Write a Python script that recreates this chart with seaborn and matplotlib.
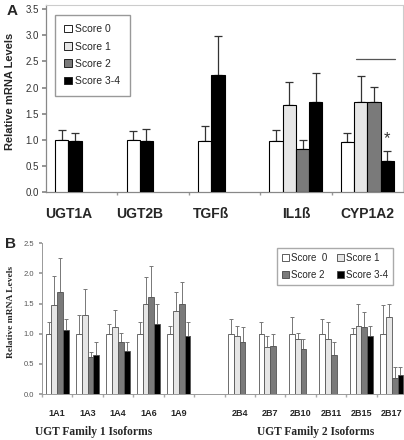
import numpy as np
import pandas as pd
import matplotlib
matplotlib.use('Agg')
import matplotlib.pyplot as plt
from matplotlib.patches import Patch
import seaborn as sns

nan = np.nan

# Panel A: genes vs. score groups (upper error only)
genes_a = ['UGT1A', 'UGT2B', 'TGFß', 'IL1ß', 'CYP1A2']
scores = ['Score 0', 'Score 1', 'Score 2', 'Score 3-4']
a_score0 = [1.00, 0.99, 0.98, 0.97, 0.96]
a_score1 = [nan, nan, nan, 1.67, 1.73]
a_score2 = [nan, nan, nan, 0.82, 1.73]
a_score34 = [0.98, 0.98, 2.24, 1.72, 0.59]
a_err0 = [0.19, 0.18, 0.28, 0.21, 0.17]
a_err1 = [nan, nan, nan, 0.44, 0.49]
a_err2 = [nan, nan, nan, 0.17, 0.28]
a_err34 = [0.15, 0.23, 0.75, 0.56, 0.19]

# Panel B: UGT isoforms
isoforms_b = ['1A1', '1A3', '1A4', '1A6', '1A9',
              '2B4', '2B7', '2B10', '2B11', '2B15', '2B17']
family_b = [1, 1, 1, 1, 1, 2, 2, 2, 2, 2, 2]
b_score0 = [1.00, 1.00, 1.00, 1.00, 1.00, 1.00, 1.00, 1.00, 1.00, 1.00, 1.00]
b_score1 = [1.48, 1.31, 1.11, 1.50, 1.38, 0.97, 0.78, 0.92, 0.92, 1.12, 1.27]
b_score2 = [1.69, 0.61, 0.87, 1.61, 1.49, 0.86, 0.80, 0.75, 0.65, 1.11, 0.26]
b_score34 = [1.06, 0.65, 0.71, 1.16, 0.96, nan, nan, nan, nan, 0.97, 0.31]
b_err0 = [0.19, 0.31, 0.16, 0.20, 0.13, 0.24, 0.19, 0.27, 0.24, 0.10, 0.48]
b_err1 = [0.48, 0.44, 0.28, 0.44, 0.32, 0.15, 0.18, 0.09, 0.27, 0.37, 0.22]
b_err2 = [0.57, 0.08, 0.14, 0.51, 0.36, 0.25, 0.20, 0.17, 0.22, 0.25, 0.19]
b_err34 = [0.18, 0.21, 0.16, 0.34, 0.23, nan, nan, nan, nan, 0.16, 0.14]

colors = ['#ffffff', '#e6e6e6', '#7a7a7a', '#000000']


def long_table(names, centers, means, errs, slot_w, pack):
    """Long table with one row per bar; pack=True closes gaps of missing bars."""
    rows = []
    for gi, name in enumerate(names):
        present = [k for k in range(4) if not np.isnan(means[k][gi])]
        for j, k in enumerate(present):
            slot = j if pack else k
            rows.append({'gene': name, 'score': scores[k],
                         'pos': centers[gi] + (slot - 1.5) * slot_w,
                         'value': means[k][gi], 'err': errs[k][gi]})
    return pd.DataFrame(rows)


sns.set_theme(style='white')
plt.rcParams['font.family'] = ['Liberation Sans', 'DejaVu Sans']

fig = plt.figure(figsize=(4.04, 4.40), dpi=100)
ax_a = fig.add_axes([46 / 404, 1 - 192 / 440, 357 / 404, 187 / 440])
ax_b = fig.add_axes([42 / 404, 46 / 440, 365 / 404, 150.7 / 440])

# ---------------- Panel A ----------------
centers_a = np.arange(len(genes_a))
df_a = long_table(genes_a, centers_a, [a_score0, a_score1, a_score2, a_score34],
                  [a_err0, a_err1, a_err2, a_err34], 0.186, pack=True)
sns.barplot(data=df_a, x='pos', y='value', hue='score', hue_order=scores,
            palette=colors, native_scale=True, dodge=False, width=1,
            errorbar=None, edgecolor='black', linewidth=0.8, legend=False,
            ax=ax_a, zorder=3)
ax_a.errorbar(df_a['pos'], df_a['value'], yerr=[np.zeros(len(df_a)), df_a['err']],
              fmt='none', ecolor='#333333', elinewidth=0.9, capsize=2.6,
              capthick=0.9, zorder=2)

ax_a.set_xlim(-0.5, len(genes_a) - 0.5)
ax_a.set_ylim(0, 3.58)
ax_a.set_yticks(np.arange(0, 3.51, 0.5))
ax_a.set_yticklabels([f'{v:.1f}' for v in np.arange(0, 3.51, 0.5)],
                     fontsize=7, color='#333333')
label_pos_a = df_a.groupby('gene', sort=False)['pos'].mean()
ax_a.set_xticks(label_pos_a.values)
ax_a.set_xticklabels(label_pos_a.index, fontsize=10, fontweight='bold')
ax_a.set_xticks(centers_a[:-1] + 0.5, minor=True)
ax_a.tick_params(axis='x', which='major', length=0, pad=11)
ax_a.tick_params(axis='x', which='minor', length=2.5, color='#999999', bottom=True)
ax_a.tick_params(axis='y', length=3, color='#888888', left=True, pad=2)
ax_a.set_xlabel('')
ax_a.set_ylabel('Relative mRNA Levels', fontsize=8, fontweight='bold')
ax_a.yaxis.set_label_coords(-0.087, 0.537)
for side in ['left', 'bottom']:
    ax_a.spines[side].set_color('#888888')
    ax_a.spines[side].set_linewidth(0.9)
for side in ['top', 'right']:
    ax_a.spines[side].set_color('#cccccc')
    ax_a.spines[side].set_linewidth(0.8)

# significance bar over CYP1A2
cyp = df_a[df_a['gene'] == 'CYP1A2']
black = cyp[cyp['score'] == 'Score 3-4'].iloc[0]
ax_a.plot([3.84, 4.39], [2.54, 2.54], color='#555555', lw=0.9)
ax_a.text(black['pos'], black['value'] + black['err'] + 0.25, '*',
          ha='center', va='center', fontsize=12, color='#333333')

handles_a = [Patch(facecolor=c, edgecolor='#222222', linewidth=0.7) for c in colors]
ax_a.legend(handles_a, scores, loc='upper left', bbox_to_anchor=(0.025, 0.947),
            borderaxespad=0, fontsize=7.5, frameon=True, fancybox=False,
            edgecolor='#999999', framealpha=1, handlelength=0.75,
            handleheight=0.75, handletextpad=0.3, labelspacing=0.7,
            borderpad=0.9)

fig.text(12 / 404, 1 - 11 / 440, 'A', fontsize=11, fontweight='bold',
         ha='center', va='center')

# ---------------- Panel B ----------------
centers_b = np.array([i + (1 if f == 2 else 0) for i, f in enumerate(family_b)])
df_b = long_table(isoforms_b, centers_b, [b_score0, b_score1, b_score2, b_score34],
                  [b_err0, b_err1, b_err2, b_err34], 0.19, pack=False)
sns.barplot(data=df_b, x='pos', y='value', hue='score', hue_order=scores,
            palette=colors, native_scale=True, dodge=False, width=1,
            errorbar=None, edgecolor='#555555', linewidth=0.6, legend=False,
            ax=ax_b, zorder=3)
ax_b.errorbar(df_b['pos'], df_b['value'], yerr=[np.zeros(len(df_b)), df_b['err']],
              fmt='none', ecolor='#777777', elinewidth=0.7, capsize=1.6,
              capthick=0.7, zorder=2)

ax_b.set_xlim(-0.5, centers_b[-1] + 0.5)
ax_b.set_ylim(0, 2.5)
ax_b.set_yticks(np.arange(0, 2.51, 0.5))
ax_b.set_yticklabels([f'{v:.1f}' for v in np.arange(0, 2.51, 0.5)],
                     fontsize=5.5, color='#555555')
ax_b.set_xticks(centers_b)
ax_b.set_xticklabels(isoforms_b, fontsize=6.5, fontweight='bold')
ax_b.set_xticks(np.arange(-0.5, centers_b[-1] + 0.6, 1), minor=True)
ax_b.tick_params(axis='x', which='major', length=0, pad=11)
ax_b.tick_params(axis='x', which='minor', length=2, color='#aaaaaa', bottom=True)
ax_b.tick_params(axis='y', length=2.5, color='#999999', left=True, pad=3)
ax_b.set_xlabel('')
ax_b.set_ylabel('Relative mRNA Levels', fontsize=6.8, fontweight='bold',
                family=['Liberation Serif', 'DejaVu Serif'])
ax_b.yaxis.set_label_coords(-0.074, 0.544)
for side in ['left', 'bottom']:
    ax_b.spines[side].set_color('#999999')
    ax_b.spines[side].set_linewidth(0.7)
for side in ['top', 'right']:
    ax_b.spines[side].set_visible(False)

tr = ax_b.get_xaxis_transform()
ax_b.text(1.2, -0.255, 'UGT Family 1 Isoforms', transform=tr, ha='center',
          va='center', fontsize=8.3, fontweight='bold',
          family=['Liberation Serif', 'DejaVu Serif'])
ax_b.text(8.5, -0.255, 'UGT Family 2 Isoforms', transform=tr, ha='center',
          va='center', fontsize=8.3, fontweight='bold',
          family=['Liberation Serif', 'DejaVu Serif'])

# two columns filled row by row: (Score 0, Score 1) / (Score 2, Score 3-4)
labels_b = ['Score  0', 'Score 1', 'Score 2', 'Score 3-4']
handles_b = [Patch(facecolor=c, edgecolor='#444444', linewidth=0.6) for c in colors]
order = [0, 2, 1, 3]
ax_b.legend([handles_b[i] for i in order], [labels_b[i] for i in order], ncol=2,
            loc='upper left', bbox_to_anchor=(0.644, 0.969), borderaxespad=0,
            fontsize=7, frameon=True, fancybox=False, edgecolor='#aaaaaa',
            framealpha=1, handlelength=0.7, handleheight=0.7,
            handletextpad=0.25, labelspacing=0.75, columnspacing=1.0,
            borderpad=0.5)

fig.text(10 / 404, 1 - 244 / 440, 'B', fontsize=11, fontweight='bold',
         ha='center', va='center')

fig.savefig('out.png', dpi=100)
